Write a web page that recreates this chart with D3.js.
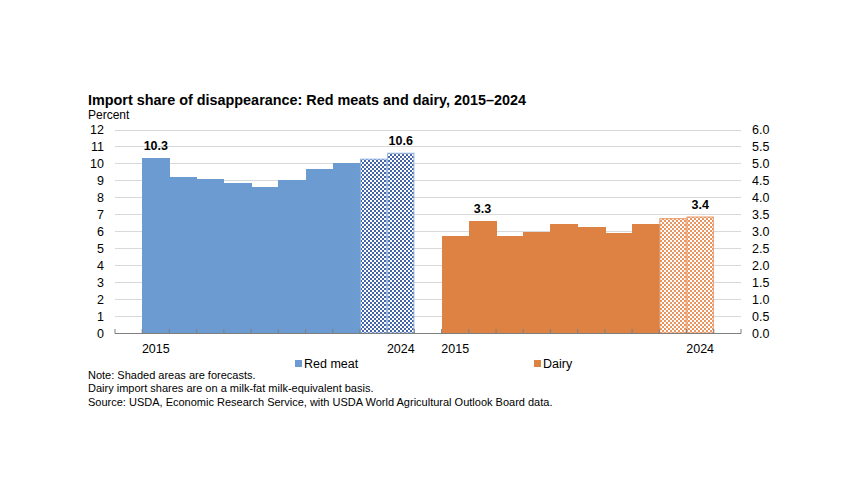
<!DOCTYPE html>
<html>
<head>
<meta charset="utf-8">
<script src="https://cdn.jsdelivr.net/npm/d3@7"></script>
<style>
  html, body { margin: 0; padding: 0; background: #fff; }
  svg { display: block; font-family: "Liberation Sans", Arial, sans-serif; }
</style>
</head>
<body>
<svg id="chart" width="864" height="504"></svg>
<script>
// ---- data ----
const years = [2015, 2016, 2017, 2018, 2019, 2020, 2021, 2022, 2023, 2024];
const redMeat = [10.3, 9.2, 9.1, 8.85, 8.6, 9.05, 9.7, 10.05, 10.25, 10.6];
const dairy = [2.85, 3.3, 2.85, 2.98, 3.22, 3.13, 2.96, 3.22, 3.37, 3.42];
const forecastYears = [2023, 2024];
const leftTicks = [0, 1, 2, 3, 4, 5, 6, 7, 8, 9, 10, 11, 12];
const rightTicks = [0, 0.5, 1, 1.5, 2, 2.5, 3, 3.5, 4, 4.5, 5, 5.5, 6];
const labeledRed = [2015, 2024];
const labeledDairy = [2016, 2024];
const xLabelYears = [2015, 2024];
const seriesNames = ["Red meat", "Dairy"];
const title = "Import share of disappearance: Red meats and dairy, 2015\u20132024";
const yLabel = "Percent";
const notes = [
  "Note: Shaded areas are forecasts.",
  "Dairy import shares are on a milk-fat milk-equivalent basis.",
  "Source: USDA, Economic Research Service, with USDA World Agricultural Outlook Board data."
];

// ---- layout ----
const svg = d3.select("#chart");
const colors = { red: "#6b9bd1", dairy: "#de8244" };
const slots = ["gapA"].concat(years.map(y => "r" + y), ["gapB"], years.map(y => "d" + y), ["gapC"]);
const x = d3.scaleBand().domain(slots).range([115, 741]).padding(0);
const yL = d3.scaleLinear().domain([0, 12]).range([333, 129.5]);
const yR = d3.scaleLinear().domain([0, 6]).range([333, 129.5]);

// patterns
const defs = svg.append("defs");
function pattern(id, col) {
  const p = defs.append("pattern").attr("id", id).attr("patternUnits", "userSpaceOnUse")
    .attr("width", 4).attr("height", 4);
  p.append("rect").attr("width", 4).attr("height", 4).attr("fill", "#fff");
  p.append("rect").attr("x", 0).attr("y", 0).attr("width", 2).attr("height", 2).attr("fill", col);
  p.append("rect").attr("x", 2).attr("y", 2).attr("width", 2).attr("height", 2).attr("fill", col);
}
pattern("patRed", "#4565a6");
pattern("patDairy", "#e99561");

// gridlines
svg.append("g").selectAll("line").data(leftTicks.filter(t => t > 0)).join("line")
  .attr("x1", 115).attr("x2", 741)
  .attr("y1", d => Math.round(yL(d)) + 0.5).attr("y2", d => Math.round(yL(d)) + 0.5)
  .attr("stroke", "#d9d9d9").attr("stroke-width", 1);

// bars
const redData = years.map((y, i) => ({ key: "r" + y, year: y, v: redMeat[i] }));
const dairyData = years.map((y, i) => ({ key: "d" + y, year: y, v: dairy[i] }));

function drawBars(data, scale, col, pat, edge) {
  const g = svg.append("g");
  g.selectAll("rect").data(data).join("rect")
    .attr("shape-rendering", d => forecastYears.includes(d.year) ? "auto" : "crispEdges")
    .attr("x", d => forecastYears.includes(d.year) ? x(d.key) + 0.5 : x(d.key))
    .attr("width", d => forecastYears.includes(d.year) ? x.bandwidth() - 1 : x.bandwidth() + 0.6)
    .attr("y", d => scale(d.v))
    .attr("height", d => scale(0) - scale(d.v))
    .attr("fill", d => forecastYears.includes(d.year) ? "url(#" + pat + ")" : col)
    .attr("stroke", d => forecastYears.includes(d.year) ? edge : "none")
    .attr("stroke-width", 1);
}
drawBars(redData, yL, colors.red, "patRed", "#8fb2e0");
drawBars(dairyData, yR, colors.dairy, "patDairy", "#e99561");

// axis line and ticks
svg.append("line").attr("x1", 115).attr("x2", 741).attr("y1", 333.5).attr("y2", 333.5)
  .attr("stroke", "#7f7f7f").attr("stroke-width", 1);
const bounds = slots.map(s => x(s)).concat([x.range()[1]]);
svg.append("g").selectAll("line").data(bounds).join("line")
  .attr("x1", d => d).attr("x2", d => d).attr("y1", 333.5).attr("y2", 329)
  .attr("stroke", "#7f7f7f").attr("stroke-width", 1);

// left axis labels
svg.append("g").selectAll("text").data(leftTicks).join("text")
  .attr("x", 104).attr("y", d => yL(d) + 4.5).attr("text-anchor", "end")
  .attr("font-size", 12.5).attr("fill", "#000").text(d => d);
// right axis labels
svg.append("g").selectAll("text").data(rightTicks).join("text")
  .attr("x", 752).attr("y", d => yR(d) + 4.5).attr("text-anchor", "start")
  .attr("font-size", 12.5).attr("fill", "#000").text(d => d3.format(".1f")(d));

// x labels
const xl = svg.append("g");
xLabelYears.forEach(y => {
  ["r", "d"].forEach(p => {
    xl.append("text").attr("x", x(p + y) + x.bandwidth() / 2).attr("y", 353)
      .attr("text-anchor", "middle").attr("font-size", 12.5).text(y);
  });
});

// data labels
const fmt = d3.format(".1f");
svg.append("g").selectAll("text").data(redData.filter(d => labeledRed.includes(d.year))).join("text")
  .attr("x", d => x(d.key) + x.bandwidth() / 2).attr("y", d => yL(d.v) - 8)
  .attr("text-anchor", "middle").attr("font-size", 12.5).attr("font-weight", "bold")
  .text(d => fmt(d.v));
svg.append("g").selectAll("text").data(dairyData.filter(d => labeledDairy.includes(d.year))).join("text")
  .attr("x", d => x(d.key) + x.bandwidth() / 2).attr("y", d => yR(d.v) - 8)
  .attr("text-anchor", "middle").attr("font-size", 12.5).attr("font-weight", "bold")
  .text(d => fmt(d.v));

// legend
const legendPos = [{ x: 295, c: colors.red, n: seriesNames[0] }, { x: 534, c: colors.dairy, n: seriesNames[1] }];
legendPos.forEach(l => {
  svg.append("rect").attr("x", l.x).attr("y", 360).attr("width", 7).attr("height", 7).attr("fill", l.c);
  svg.append("text").attr("x", l.x + 9).attr("y", 368).attr("font-size", 12.5).text(l.n);
});

// title
svg.append("text").attr("x", 88).attr("y", 105).attr("font-size", 14.4).attr("font-weight", "bold").text(title);
svg.append("text").attr("x", 88).attr("y", 119).attr("font-size", 12).text(yLabel);

// notes
svg.append("g").selectAll("text").data(notes).join("text")
  .attr("x", 88).attr("y", (d, i) => 378.5 + i * 13.5).attr("font-size", 11).text(d => d);
</script>
</body>
</html>
